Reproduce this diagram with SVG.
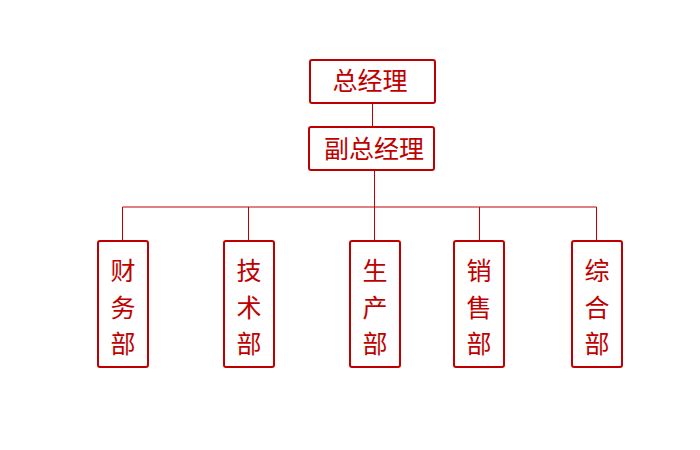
<svg xmlns="http://www.w3.org/2000/svg" width="700" height="450" viewBox="0 0 700 450">
<style>
.box{fill:#fff;stroke:#c00000;stroke-width:2}
.t{font-family:"Noto Sans CJK SC","Liberation Sans",sans-serif;font-size:25px;fill:#c00000;text-anchor:middle}
.c{stroke:#c00000;stroke-width:1;fill:none}
</style>
<rect width="700" height="450" fill="#fff"/>
<g id="connectors">
<line class="c" x1="372.5" y1="103" x2="372.5" y2="127"/>
<line class="c" x1="374.5" y1="170" x2="374.5" y2="207"/>
<line class="c" x1="122.5" y1="207" x2="596.5" y2="207"/>
<line class="c" x1="122.5" y1="207" x2="122.5" y2="241"/>
<line class="c" x1="248.5" y1="207" x2="248.5" y2="241"/>
<line class="c" x1="374.5" y1="207" x2="374.5" y2="241"/>
<line class="c" x1="479.5" y1="207" x2="479.5" y2="241"/>
<line class="c" x1="596.5" y1="207" x2="596.5" y2="241"/>
</g>
<g id="gm">
<rect class="box" x="310" y="60" width="125" height="43" rx="2"/>
<text class="t" x="370" y="90">总经理</text>
</g>
<g id="vgm">
<rect class="box" x="309" y="127" width="125" height="43" rx="2"/>
<text class="t" x="374" y="158">副总经理</text>
</g>
<g id="finance">
<rect class="box" x="98" y="241" width="50" height="126" rx="2"/>
<text class="t" x="123"><tspan x="123" y="280">财</tspan><tspan x="123" y="316.5">务</tspan><tspan x="123" y="353">部</tspan></text>
</g>
<g id="tech">
<rect class="box" x="224" y="241" width="50" height="126" rx="2"/>
<text class="t" x="249"><tspan x="249" y="280">技</tspan><tspan x="249" y="316.5">术</tspan><tspan x="249" y="353">部</tspan></text>
</g>
<g id="production">
<rect class="box" x="350" y="241" width="50" height="126" rx="2"/>
<text class="t" x="375"><tspan x="375" y="280">生</tspan><tspan x="375" y="316.5">产</tspan><tspan x="375" y="353">部</tspan></text>
</g>
<g id="sales">
<rect class="box" x="454" y="241" width="50" height="126" rx="2"/>
<text class="t" x="479"><tspan x="479" y="280">销</tspan><tspan x="479" y="316.5">售</tspan><tspan x="479" y="353">部</tspan></text>
</g>
<g id="general">
<rect class="box" x="572" y="241" width="50" height="126" rx="2"/>
<text class="t" x="597"><tspan x="597" y="280">综</tspan><tspan x="597" y="316.5">合</tspan><tspan x="597" y="353">部</tspan></text>
</g>
</svg>
